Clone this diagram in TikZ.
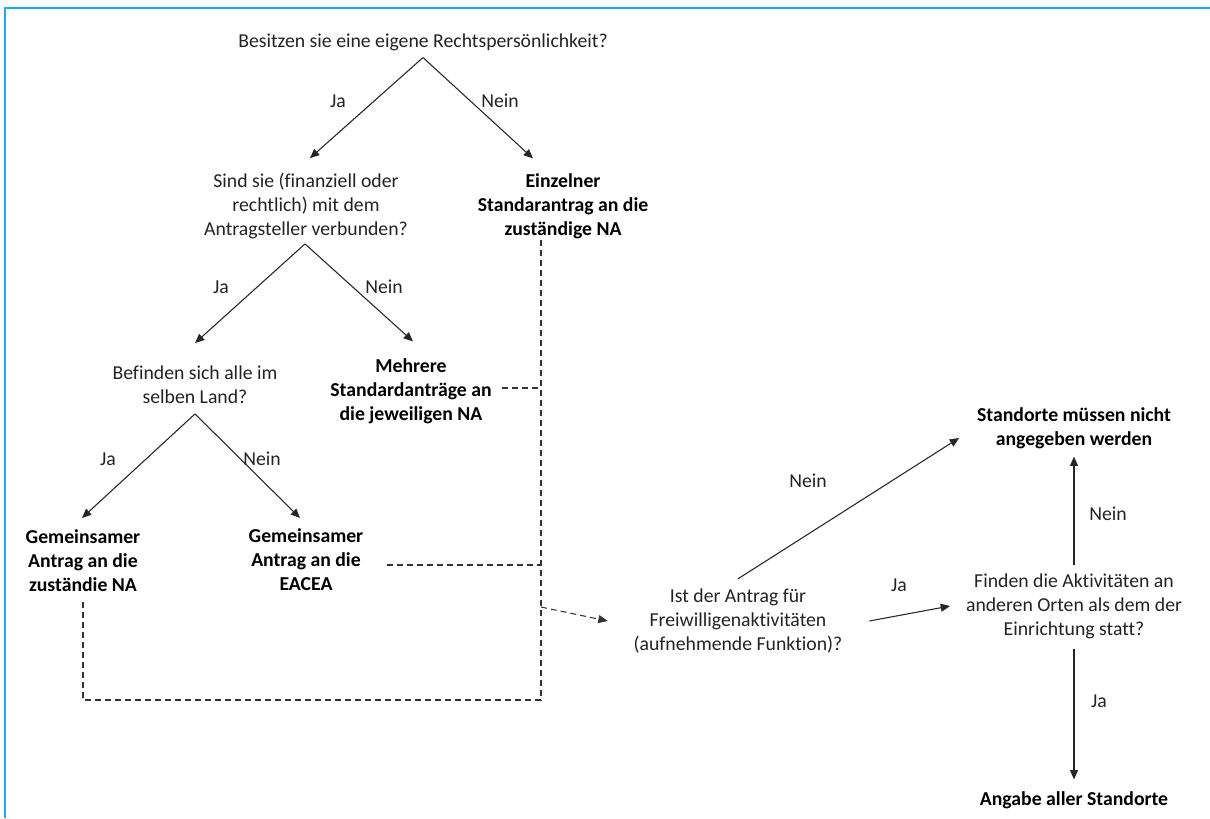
\documentclass[tikz,border=0pt]{standalone}
\usepackage{fontspec}
\setmainfont{Carlito}[Ligatures=CommonOff]
\usetikzlibrary{arrows.meta,calc}
\definecolor{frameblue}{RGB}{30,170,235}
\definecolor{txt}{RGB}{35,35,35}
\tikzset{
  q/.style={align=center, inner sep=0pt, outer sep=0pt, text=txt, font=\fontsize{14.8}{18}\selectfont},
  res/.style={q, font=\fontsize{14.8}{18}\selectfont\bfseries, text=black},
  lbl/.style={inner sep=0pt, text=txt, font=\fontsize{14.8}{18}\selectfont},
  arr/.style={draw=black!85, line width=0.8pt, -{Triangle[width=6pt,length=7pt]}},
  dashline/.style={draw=black!80, line width=0.8pt, dash pattern=on 4.5pt off 3pt},
  dasharr/.style={dashline, -{Triangle[width=6pt,length=7pt]}}
}
\begin{document}
\begin{tikzpicture}[x=0.75pt,y=-0.75pt]
\useasboundingbox (0,0) rectangle (1210,818);
\fill[white] (0,0) rectangle (1210,818);
\draw[frameblue, line width=1.6pt] (1210,8) -- (5,8) -- (5,818);

% nodes
\node[q]   (n1)  at (423,42)  {Besitzen sie eine eigene Rechtspersönlichkeit?};
\node[q]   (n2)  at (306,206) {Sind sie (finanziell oder\\rechtlich) mit dem\\Antragsteller verbunden?};
\node[res] (n3)  at (563,206) {Einzelner\\Standarantrag an die\\zuständige NA};
\node[q]   (n4)  at (195,385) {Befinden sich alle im\\selben Land?};
\node[res] (n5)  at (411,391) {Mehrere\\Standardanträge an\\die jeweiligen NA};
\node[res] (n6)  at (83,561)  {Gemeinsamer\\Antrag an die\\zuständie NA};
\node[res] (n7)  at (306,560) {Gemeinsamer\\Antrag an die\\EACEA};
\node[q]   (n8)  at (738,621) {Ist der Antrag für\\Freiwilligenaktivitäten\\(aufnehmende Funktion)?};
\node[q]   (n9)  at (1074,606) {Finden die Aktivitäten an\\anderen Orten als dem der\\Einrichtung statt?};
\node[res] (n10) at (1074,428) {Standorte müssen nicht\\angegeben werden};
\node[res] (n11) at (1074,800) {Angabe aller Standorte};

% branch points
\coordinate (p1) at ($(n1.south)+(0,7)$);
\coordinate (p2) at ($(n2.south)+(-1,5)$);
\coordinate (p3) at ($(n4.south)+(0,10)$);

% tree arrows
\draw[arr] (p1) -- ($(n2.north)+(4,-15)$);
\draw[arr] (p1) -- ($(n3.north)+(-30,-15)$);
\node[lbl] (l1) at (338,101) {Ja};
\node[lbl] (l2) at (500,101) {Nein};

\draw[arr] (p2) -- ($(n4.north)+(0,-23)$);
\draw[arr] (p2) -- ($(n5.north)+(2,-17)$);
\node[lbl] (l3) at (221,287) {Ja};
\node[lbl] (l4) at (384,287) {Nein};

\draw[arr] (p3) -- ($(n6.north)+(-1,-12)$);
\draw[arr] (p3) -- ($(n7.north)+(-6,-11)$);
\node[lbl] (l5) at (108,459) {Ja};
\node[lbl] (l6) at (262,459) {Nein};

% dashed collector
\coordinate (bt) at ($(n3.south)+(-22,1)$);
\coordinate (bb) at (bt |- 0,700);
\draw[dashline] (bt) -- (bb);
\draw[dashline] ($(n6.south)+(0,10)$) |- (bb);
\draw[dashline] ($(n5.east)+(10,-3)$) -- ($(n5.east -| bt)+(0,-3)$);
\draw[dashline] ($(n7.east)+(24,5)$) -- ($(n7.east -| bt)+(0,5)$);
\draw[dasharr] ($(n8.west -| bt)+(0,-14)$) -- ($(n8.west)+(-26,0)$);

% right part
\draw[arr] ($(n8.north)+(0,-10)$) -- ($(n10.west)+(-18,10)$);
\node[lbl] (l7) at (808,481) {Nein};
\draw[arr] ($(n8.east)+(27,0)$) -- ($(n9.west)+(-16,0)$);
\node[lbl] (l8) at (899,585) {Ja};
\draw[arr] ($(n9.north)+(0,-8)$) -- ($(n10.south)+(0,8)$);
\node[lbl] (l9) at (1108,514) {Nein};
\draw[arr] ($(n9.south)+(0,10)$) -- ($(n11.north)+(0,-12)$);
\node[lbl] (l10) at (1099,701) {Ja};
\end{tikzpicture}
\end{document}
